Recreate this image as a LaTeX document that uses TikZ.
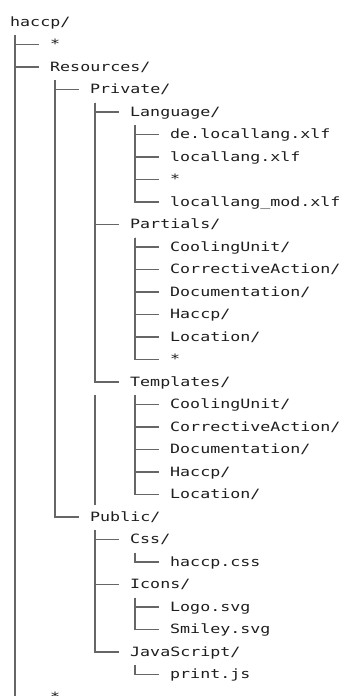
\documentclass[tikz,border=0pt]{standalone}
\usepackage{fontspec}
\newfontfamily\treefont[FakeStretch=1.3]{DejaVu Sans Mono}
\usetikzlibrary{calc}
\definecolor{linec}{HTML}{666666}
\definecolor{textc}{HTML}{1E1E1E}
\tikzset{
  tx/.style={anchor=base west, inner sep=0pt, text=textc, font=\treefont\fontsize{12.8}{15}\selectfont},
  lk/.style={draw=linec, line width=1.4pt},
}
\newcommand\entry[4]{\node[tx] (#1) at ({10+40*#2},{26+22.5*#3}) {#4};}
\newcommand\treelink[2]{\draw[lk] ($(#1.base west)+(5,9)$) |- ($(#2.base west)+(-11,-4)$);}
\begin{document}
\begin{tikzpicture}[x={(1pt,0)}, y={(0,-1pt)}]
\useasboundingbox (0,0) rectangle (343,696);
\fill[white] (0,0) rectangle (343,696);
\entry{root}{0}{0}{haccp/}
\entry{s1}{1}{1}{*}
\entry{res}{1}{2}{Resources/}
\entry{priv}{2}{3}{Private/}
\entry{lang}{3}{4}{Language/}
\entry{de}{4}{5}{de.locallang.xlf}
\entry{ll}{4}{6}{locallang.xlf}
\entry{s2}{4}{7}{*}
\entry{llm}{4}{8}{locallang\_mod.xlf}
\entry{part}{3}{9}{Partials/}
\entry{pcu}{4}{10}{CoolingUnit/}
\entry{pca}{4}{11}{CorrectiveAction/}
\entry{pdo}{4}{12}{Documentation/}
\entry{pha}{4}{13}{Haccp/}
\entry{plo}{4}{14}{Location/}
\entry{s3}{4}{15}{*}
\entry{tmpl}{3}{16}{Templates/}
\entry{tcu}{4}{17}{CoolingUnit/}
\entry{tca}{4}{18}{CorrectiveAction/}
\entry{tdo}{4}{19}{Documentation/}
\entry{tha}{4}{20}{Haccp/}
\entry{tlo}{4}{21}{Location/}
\entry{pub}{2}{22}{Public/}
\entry{css}{3}{23}{Css/}
\entry{hcss}{4}{24}{haccp.css}
\entry{icons}{3}{25}{Icons/}
\entry{logo}{4}{26}{Logo.svg}
\entry{smiley}{4}{27}{Smiley.svg}
\entry{js}{3}{28}{JavaScript/}
\entry{print}{4}{29}{print.js}
\entry{s4}{1}{30}{*}
% links
\treelink{root}{s1}
\treelink{root}{res}
\treelink{root}{s4}
\treelink{res}{priv}
\treelink{res}{pub}
\treelink{priv}{lang}
\treelink{priv}{part}
\treelink{priv}{tmpl}
\treelink{lang}{de}
\treelink{lang}{ll}
\treelink{lang}{s2}
\treelink{lang}{llm}
\treelink{part}{pcu}
\treelink{part}{pca}
\treelink{part}{pdo}
\treelink{part}{pha}
\treelink{part}{plo}
\treelink{part}{s3}
\treelink{tmpl}{tcu}
\treelink{tmpl}{tca}
\treelink{tmpl}{tdo}
\treelink{tmpl}{tha}
\treelink{tmpl}{tlo}
\treelink{pub}{css}
\treelink{pub}{icons}
\treelink{pub}{js}
\treelink{css}{hcss}
\treelink{icons}{logo}
\treelink{icons}{smiley}
\treelink{js}{print}
% stray line below Templates
\draw[lk] ($(tmpl.base west)+(-35,9)$) -- ($(pub.base west)+(5,-16)$);
\end{tikzpicture}
\end{document}
